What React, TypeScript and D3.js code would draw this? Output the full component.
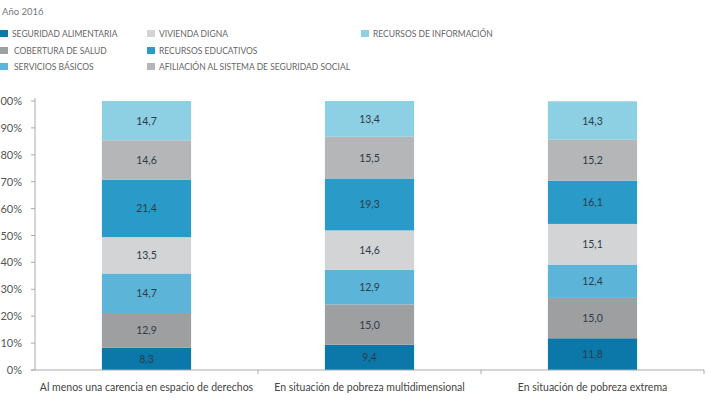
import React from 'react';
import { scaleBand, scaleLinear, stack } from 'd3';

const categories = [
  'Al menos una carencia en espacio de derechos',
  'En situación de pobreza multidimensional',
  'En situación de pobreza extrema',
];

// stacked bottom -> top
const seriesNames = [
  'SEGURIDAD ALIMENTARIA',
  'COBERTURA DE SALUD',
  'SERVICIOS BÁSICOS',
  'VIVIENDA DIGNA',
  'RECURSOS EDUCATIVOS',
  'AFILIACIÓN AL SISTEMA DE SEGURIDAD SOCIAL',
  'RECURSOS DE INFORMACIÓN',
];
const seguridadAlimentaria = [8.3, 9.4, 11.8];
const coberturaSalud = [12.9, 15.0, 15.0];
const serviciosBasicos = [14.7, 12.9, 12.4];
const viviendaDigna = [13.5, 14.6, 15.1];
const recursosEducativos = [21.4, 19.3, 16.1];
const afiliacion = [14.6, 15.5, 15.2];
const recursosInformacion = [14.7, 13.4, 14.3];

const yTicks = [0, 10, 20, 30, 40, 50, 60, 70, 80, 90, 100];
const colors = ['#0b78a9', '#9e9fa1', '#5cb5d8', '#d3d4d6', '#2a9bc8', '#b5b6b8', '#8dcfe3'];

// legend layout: [column, row] per series
const legendSlots = [[0, 0], [0, 1], [0, 2], [1, 0], [1, 1], [1, 2], [2, 0]];

const FONT = 'Lato, "Open Sans", sans-serif';

export default function App() {
  const width = 711;
  const height = 402;
  const left = 35;
  const right = 704;
  const top = 101;
  const bottom = 370;

  const allSeries = [
    seguridadAlimentaria, coberturaSalud, serviciosBasicos, viviendaDigna,
    recursosEducativos, afiliacion, recursosInformacion,
  ];
  const rows = categories.map((c, i) => {
    const r: any = { cat: c };
    seriesNames.forEach((s, j) => { r[s] = allSeries[j][i]; });
    return r;
  });
  const stacked = stack<any>().keys(seriesNames)(rows);

  const x = scaleBand().domain(categories).range([left, right]).paddingInner(0.6).paddingOuter(0.3);
  const band = scaleBand().domain(categories).range([left, right]);
  const y = scaleLinear().domain([0, 100]).range([bottom, top]);

  const legendX = [0, 147, 361];
  const legendY = [34, 51, 67];

  return (
    <svg width={width} height={height} style={{ position: 'absolute', left: 0, top: 0 }} fontFamily={FONT}>
      <text x={2} y={15} fontSize={9.5} fill="#777">Año 2016</text>

      {seriesNames.map((s, i) => {
        const [c, r] = legendSlots[i];
        const lx = legendX[c];
        const ly = legendY[r];
        const tx = c === 0 && r > 0 ? lx + 14 : lx + 12;
        return (
          <g key={s}>
            <rect x={lx} y={ly - 4} width={8} height={7} fill={colors[i]} />
            <text x={tx} y={ly + 3} fontSize={8.5} fill="#666">{s}</text>
          </g>
        );
      })}

      {stacked.map((layer, i) => (
        <g key={layer.key}>
          {layer.map((d, j) => {
            const y0 = y(d[0]);
            const y1 = Math.max(y(d[1]), top);
            const bx = x(categories[j])!;
            return (
              <g key={j}>
                <rect x={bx} y={y1} width={x.bandwidth()} height={y0 - y1} fill={colors[i]} />
                <text x={bx + x.bandwidth() / 2} y={(y0 + y1) / 2 + 4} textAnchor="middle"
                  fontSize={10.5} fill="#2e3b48">
                  {(d[1] - d[0]).toFixed(1).replace('.', ',')}
                </text>
              </g>
            );
          })}
        </g>
      ))}

      {/* y axis */}
      <line x1={left} x2={left} y1={top - 3} y2={bottom} stroke="#aaa" />
      {yTicks.map((t) => (
        <g key={t}>
          <line x1={left - 4} x2={left} y1={y(t)} y2={y(t)} stroke="#aaa" />
          <text x={22} y={y(t) + 4} textAnchor="end" fontSize={11} fill="#555">{t}%</text>
        </g>
      ))}

      {/* x axis */}
      <line x1={left - 4} x2={right} y1={bottom} y2={bottom} stroke="#aaa" />
      {categories.map((c) => (
        <g key={c}>
          <line x1={band(c)! + band.bandwidth()} x2={band(c)! + band.bandwidth()} y1={bottom} y2={bottom + 4} stroke="#aaa" />
          <text x={band(c)! + band.bandwidth() / 2} y={391} textAnchor="middle" fontSize={10.5} fill="#444">{c}</text>
        </g>
      ))}
    </svg>
  );
}
